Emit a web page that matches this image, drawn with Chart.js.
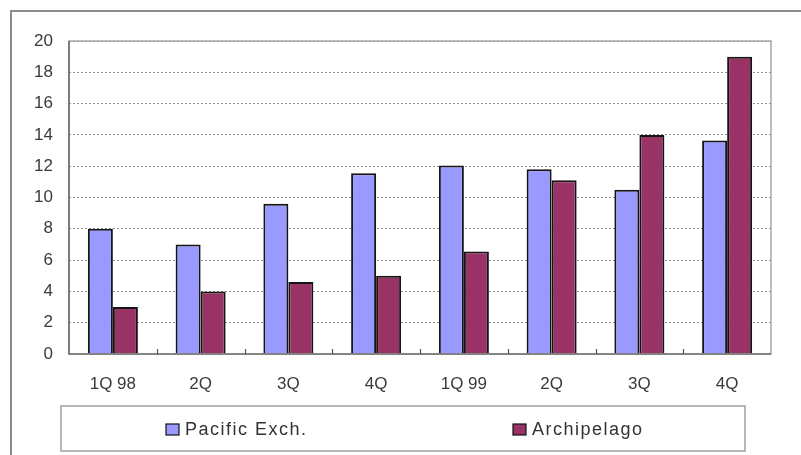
<!DOCTYPE html>
<html>
<head>
<meta charset="utf-8">
<script src="https://cdn.jsdelivr.net/npm/chart.js@4.4.1/dist/chart.umd.min.js"></script>
<style>
  html, body { margin: 0; padding: 0; background: #fff; }
  #wrap { position: relative; width: 801px; height: 455px; overflow: hidden; }
  #frame { position: absolute; left: 10px; top: 10px; width: 800px; height: 460px;
           border-left: 2px solid #8c8c8c; border-top: 2px solid #8c8c8c; }
  canvas { position: absolute; left: 0; top: 0; }
</style>
</head>
<body>
<div id="wrap">
  <div id="frame"></div>
  <canvas id="grafico" width="801" height="455"></canvas>
</div>
<script>
const categorias = ["1Q 98", "2Q", "3Q", "4Q", "1Q 99", "2Q", "3Q", "4Q"];
const pacifico = [8.0, 7.0, 9.6, 11.55, 12.05, 11.8, 10.5, 13.65];
const archipielago = [3.0, 4.0, 4.6, 5.0, 6.55, 11.1, 14.0, 19.0];
const etiquetas = ["Pacific Exch.", "Archipelago"];
const colores = ["#9999ff", "#993366"];

const fuente = "'Liberation Sans', Arial, sans-serif";

// marco del area de trazado, marcas del eje x y leyenda propia en caja
const marcoYLeyenda = {
  id: "marcoYLeyenda",
  afterDatasetsDraw(chart) {
    const {ctx, chartArea} = chart;
    const ejeX = chart.scales.x;
    ctx.save();
    ctx.strokeStyle = "#a6a6a6";
    ctx.lineWidth = 1.5;
    ctx.strokeRect(chartArea.left, chartArea.top, chartArea.right - chartArea.left, chartArea.bottom - chartArea.top);
    ctx.strokeStyle = "#555";
    ctx.lineWidth = 1.2;
    ctx.beginPath();
    ctx.moveTo(chartArea.left, chartArea.top);
    ctx.lineTo(chartArea.left, chartArea.bottom);
    ctx.lineTo(chartArea.right, chartArea.bottom);
    // marcas entre categorias, hacia dentro
    for (let i = 1; i < categorias.length; i++) {
      const x = Math.round((ejeX.getPixelForValue(i - 1) + ejeX.getPixelForValue(i)) / 2) + 0.5;
      ctx.moveTo(x, chartArea.bottom);
      ctx.lineTo(x, chartArea.bottom - 5);
    }
    ctx.stroke();

    // leyenda
    ctx.strokeStyle = "#a0a0a0";
    ctx.lineWidth = 1.5;
    ctx.strokeRect(61, 406, 684, 45);
    const xs = [166, 513];
    ctx.font = "18px " + fuente;
    ctx.textBaseline = "middle";
    if ("letterSpacing" in ctx) ctx.letterSpacing = "1.5px";
    chart.data.datasets.forEach((ds, i) => {
      ctx.fillStyle = ds.backgroundColor;
      ctx.fillRect(xs[i], 424, 13, 11);
      ctx.strokeStyle = "#111";
      ctx.lineWidth = 1.2;
      ctx.strokeRect(xs[i], 424, 13, 11);
      ctx.fillStyle = "#333";
      ctx.fillText(ds.label, xs[i] + 19, 430);
    });
    ctx.restore();
  }
};

const data = {
  labels: categorias,
  datasets: [
    {
      label: etiquetas[0],
      data: pacifico,
      backgroundColor: colores[0],
      borderColor: "#151515",
      borderWidth: 2,
    },
    {
      label: etiquetas[1],
      data: archipielago,
      backgroundColor: colores[1],
      borderColor: "#151515",
      borderWidth: 2,
    },
  ],
};

const config = {
  type: "bar",
  data: data,
  options: {
    responsive: false,
    animation: false,
    devicePixelRatio: 1,
    layout: {
      padding: {top: 41, right: 30, bottom: 0, left: 0}
    },
    datasets: {
      bar: {
        categoryPercentage: 0.57,
        barPercentage: 1.0,
      }
    },
    plugins: {
      legend: {display: false},
      title: {display: false},
      tooltip: {enabled: false},
    },
    scales: {
      x: {
        offset: true,
        afterFit: (scale) => { scale.height = 101; },
        grid: {
          display: false,
          drawTicks: false,
        },
        border: {display: false},
        ticks: {
          color: "#3a3a3a",
          padding: 20,
          maxRotation: 0,
          font: {family: fuente, size: 17},
        },
      },
      y: {
        min: 0,
        max: 20,
        afterFit: (scale) => { scale.width = 69; },
        grid: {
          color: "#8f8f8f",
          lineWidth: 1,
          drawTicks: false,
        },
        border: {display: false, dash: [2, 2]},
        ticks: {
          stepSize: 2,
          color: "#3a3a3a",
          padding: 16,
          font: {family: fuente, size: 17},
        },
      },
    },
  },
  plugins: [marcoYLeyenda],
};

const myChart = new Chart(document.getElementById("grafico"), config);
</script>
</body>
</html>
